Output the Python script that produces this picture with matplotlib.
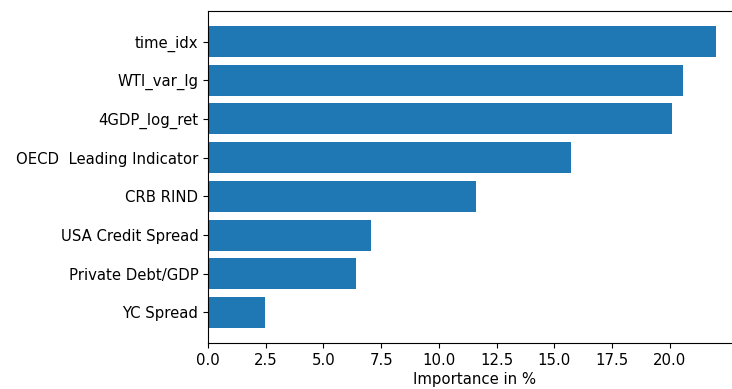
import matplotlib
matplotlib.use("Agg")
import matplotlib.pyplot as plt

features = ["YC Spread", "Private Debt/GDP", "USA Credit Spread", "CRB RIND",
            "OECD  Leading Indicator", "4GDP_log_ret", "WTI_var_lg", "time_idx"]
importance = [2.48, 6.41, 7.06, 11.63, 15.74, 20.11, 20.56, 21.99]

fig = plt.figure(figsize=(7.32, 3.89), dpi=100)
ax = fig.add_axes([208/732, 46/389, (741-208)/732, 332/389])
ax.barh(features, importance, color="#1f77b4")
ax.set_xlabel("Importance in %", fontsize=10.7, labelpad=3)
ax.tick_params(labelsize=10.7)
ax.set_xticks([0, 2.5, 5, 7.5, 10, 12.5, 15, 17.5, 20])
fig.savefig("out.png", dpi=100)
